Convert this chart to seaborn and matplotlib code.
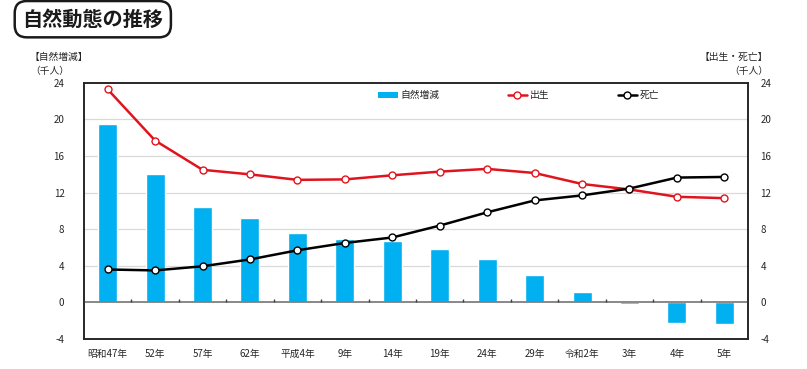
import numpy as np
import pandas as pd
import seaborn as sns
import matplotlib.pyplot as plt
from matplotlib.lines import Line2D
from matplotlib.patches import Patch

# data (千人)
years = ["昭和47年", "52年", "57年", "62年", "平成4年", "9年", "14年",
         "19年", "24年", "29年", "令和2年", "3年", "4年", "5年"]
natural_change = [19.5, 14.0, 10.4, 9.2, 7.6, 6.9, 6.7, 5.8, 4.7, 3.0, 1.1, -0.15, -2.2, -2.4]
births = [23.3, 17.7, 14.5, 14.0, 13.4, 13.45, 13.9, 14.3, 14.6, 14.15, 12.95, 12.35, 11.55, 11.4]
deaths = [3.6, 3.5, 3.95, 4.7, 5.7, 6.5, 7.1, 8.4, 9.85, 11.15, 11.7, 12.45, 13.65, 13.72]
yticks = [-4, 0, 4, 8, 12, 16, 20, 24]

BAR_COLOR = "#00B0F0"
RED = "#E0141E"

sns.set_theme(style="white")
plt.rcParams["font.family"] = ["Noto Sans CJK JP", "DejaVu Sans"]
plt.rcParams["axes.unicode_minus"] = False

df = pd.DataFrame({"year": years, "natural": natural_change,
                   "births": births, "deaths": deaths})
df["pos"] = np.arange(len(df))

fig = plt.figure(figsize=(8.07, 3.69), dpi=100)
ax = fig.add_axes([0.104, 0.0813, 0.823, 0.694])

ax.set_ylim(-4, 24)
ax.set_yticks(yticks)
for t in yticks[1:-1]:
    if t != 0:
        ax.axhline(t, color="#d9d9d9", lw=0.9, zorder=0)

sns.barplot(data=df, x="year", y="natural", color=BAR_COLOR, width=0.4,
            saturation=1, ax=ax, zorder=2)
ax.set_xlim(-0.5, len(df) - 0.5)
ax.axhline(0, color="#7f7f7f", lw=1.3, zorder=3)
# small category ticks on the zero line
ax.vlines(df["pos"][:-1] + 0.5, 0, 0.35, color="#404040", lw=1, zorder=3)

ax2 = ax.twinx()
ax2.set_ylim(-4, 24)
ax2.set_yticks(yticks)
sns.lineplot(data=df, x="pos", y="births", color=RED, lw=1.8, marker="o",
             markersize=5, markerfacecolor="white", markeredgecolor=RED,
             markeredgewidth=1, ax=ax2)
sns.lineplot(data=df, x="pos", y="deaths", color="black", lw=1.8, marker="o",
             markersize=5, markerfacecolor="white", markeredgecolor="black",
             markeredgewidth=1, ax=ax2)
ax2.set_xlim(-0.5, len(df) - 0.5)

for a in (ax, ax2):
    a.set_xlabel("")
    a.set_ylabel("")
    for s in a.spines.values():
        s.set_color("#262626")
        s.set_linewidth(1.2)
    a.tick_params(axis="y", labelsize=7, length=0, pad=14, colors="#262626")
ax.tick_params(axis="x", labelsize=7, length=0, pad=7, colors="#262626")
ax.set_xticks(df["pos"])
ax.set_xticklabels(years)
ax2.tick_params(axis="y", pad=9)

# legend
handles = [Patch(facecolor=BAR_COLOR, edgecolor="none"),
           Line2D([], [], color=RED, lw=1.8, marker="o", markersize=5,
                  markerfacecolor="white", markeredgecolor=RED),
           Line2D([], [], color="black", lw=1.8, marker="o", markersize=5,
                  markerfacecolor="white", markeredgecolor="black")]
fig.legend(handles, ["自然増減", "出生", "死亡"], ncol=3, frameon=False,
           loc="center", bbox_to_anchor=(0.643, 0.742), fontsize=7,
           handlelength=2.0, handleheight=0.5, handletextpad=0.3,
           columnspacing=7.0)

# axis unit labels
fig.text(0.037, 0.845, "【自然増減】", fontsize=7, ha="left", va="center", color="#262626")
fig.text(0.037, 0.808, "（千人）", fontsize=7, ha="left", va="center", color="#262626")
fig.text(0.952, 0.845, "【出生・死亡】", fontsize=7, ha="right", va="center", color="#262626")
fig.text(0.952, 0.808, "（千人）", fontsize=7, ha="right", va="center", color="#262626")

# title box
fig.text(0.115, 0.948, "自然動態の推移", fontsize=14.5, fontweight="bold",
         ha="center", va="center", color="#1a1a1a",
         bbox=dict(boxstyle="round,pad=0.38,rounding_size=0.6",
                   facecolor="white", edgecolor="#1a1a1a", linewidth=1.8))

fig.savefig("out.png", dpi=100)
